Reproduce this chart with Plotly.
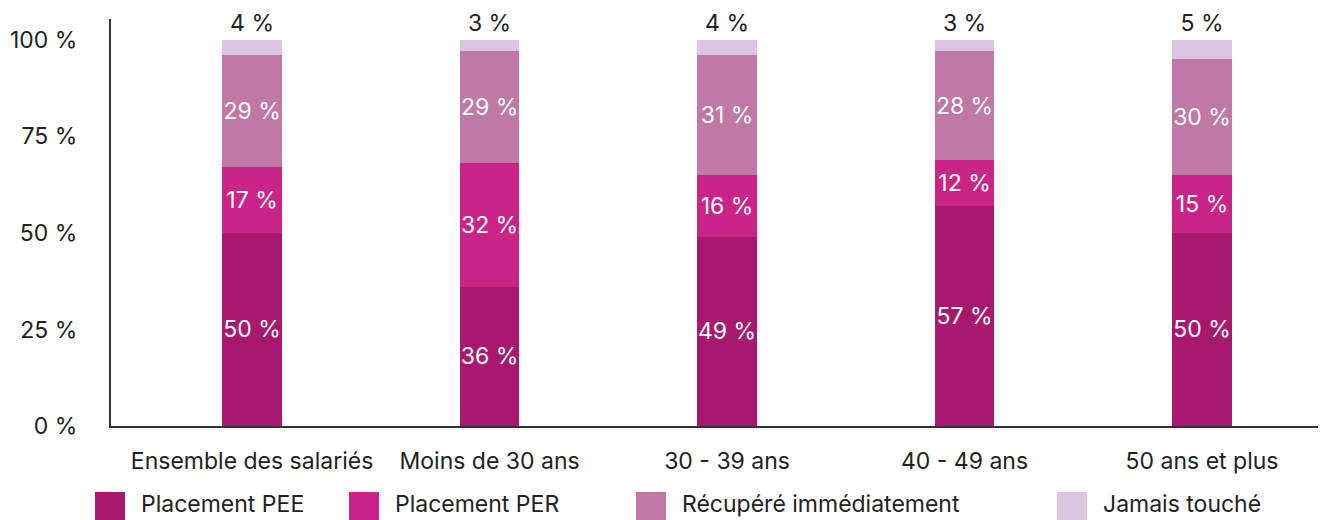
import plotly.graph_objects as go

categories = ["Ensemble des salariés", "Moins de 30 ans", "30 - 39 ans", "40 - 49 ans", "50 ans et plus"]
pee = [50, 36, 49, 57, 50]
per = [17, 32, 16, 12, 15]
recup = [29, 29, 31, 28, 30]
jamais = [4, 3, 4, 3, 5]
series_names = ["Placement PEE", "Placement PER", "Récupéré immédiatement", "Jamais touché"]
colors = ["#A8186E", "#CA2489", "#C078A4", "#DCC5E0"]
y_ticks = [0, 25, 50, 75, 100]
y_ticktext = ["0 %", "25 %", "50 %", "75 %", "100 %"]

# page offset: the HTML body has an 8px margin, so the figure is drawn at (8, 8)
OFF = 8
# legend layout (page pixel positions of legend swatches, styling only)
legend_x_px = [95, 349, 636, 1057]

W, H = 1326 - OFF, 520 - OFF
ML, MR, MT = 111 - OFF, 0, 19 - OFF
MB = H - (426 - OFF)
PW, PH = W - ML - MR, H - MT - MB

FONT = "Inter"
FS = 23
fig = go.Figure()
for name, vals, col in zip(series_names, [pee, per, recup, jamais], colors):
    last = name == "Jamais touché"
    fig.add_trace(go.Bar(
        x=categories, y=vals, name=name,
        marker=dict(color=col, line=dict(width=0)),
        width=0.25,
        text=[f"{v} %" for v in vals],
        textposition="outside" if last else "inside",
        insidetextanchor="middle",
        constraintext="none",
        textangle=0,
        textfont=dict(family=FONT, size=FS, color="#222222" if last else "white"),
        outsidetextfont=dict(family=FONT, size=FS, color="#222222"),
        insidetextfont=dict(family=FONT, size=FS, color="white"),
        cliponaxis=False,
        hoverinfo="skip",
        showlegend=False,
    ))


def px_to_paper_x(xp):
    return (xp - OFF - ML) / PW


def px_to_paper_y(yp):
    return (H - MB - (yp - OFF)) / PH


# manual legend with large square swatches
for name, col, xp in zip(series_names, colors, legend_x_px):
    fig.add_shape(type="rect", xref="paper", yref="paper",
                  x0=px_to_paper_x(xp), x1=px_to_paper_x(xp + 30),
                  y0=px_to_paper_y(492), y1=px_to_paper_y(522),
                  fillcolor=col, line=dict(width=0), layer="above")
    fig.add_annotation(xref="paper", yref="paper", x=px_to_paper_x(xp + 44), y=px_to_paper_y(504),
                       text=name, showarrow=False, xanchor="left", yanchor="middle",
                       font=dict(family=FONT, size=FS, color="#222222"))

fig.update_layout(
    barmode="stack",
    width=W, height=H,
    margin=dict(l=ML, r=MR, t=MT, b=MB, autoexpand=False),
    paper_bgcolor="white", plot_bgcolor="white",
    font=dict(family=FONT, size=FS, color="#222222"),
    showlegend=False,
)
fig.update_xaxes(
    range=[-0.594, 4.522], showgrid=False, showline=True, linecolor="#333333", linewidth=2,
    ticks="", ticklabelstandoff=13, tickfont=dict(family=FONT, size=FS, color="#222222"),
    fixedrange=True,
)
fig.update_yaxes(
    range=[0, 105.4], tickvals=y_ticks, ticktext=y_ticktext, showgrid=False, zeroline=False,
    showline=True, linecolor="#333333", linewidth=2, ticks="", ticklabelstandoff=27,
    tickfont=dict(family=FONT, size=FS, color="#222222"), fixedrange=True,
)
fig.write_html("out.html")
